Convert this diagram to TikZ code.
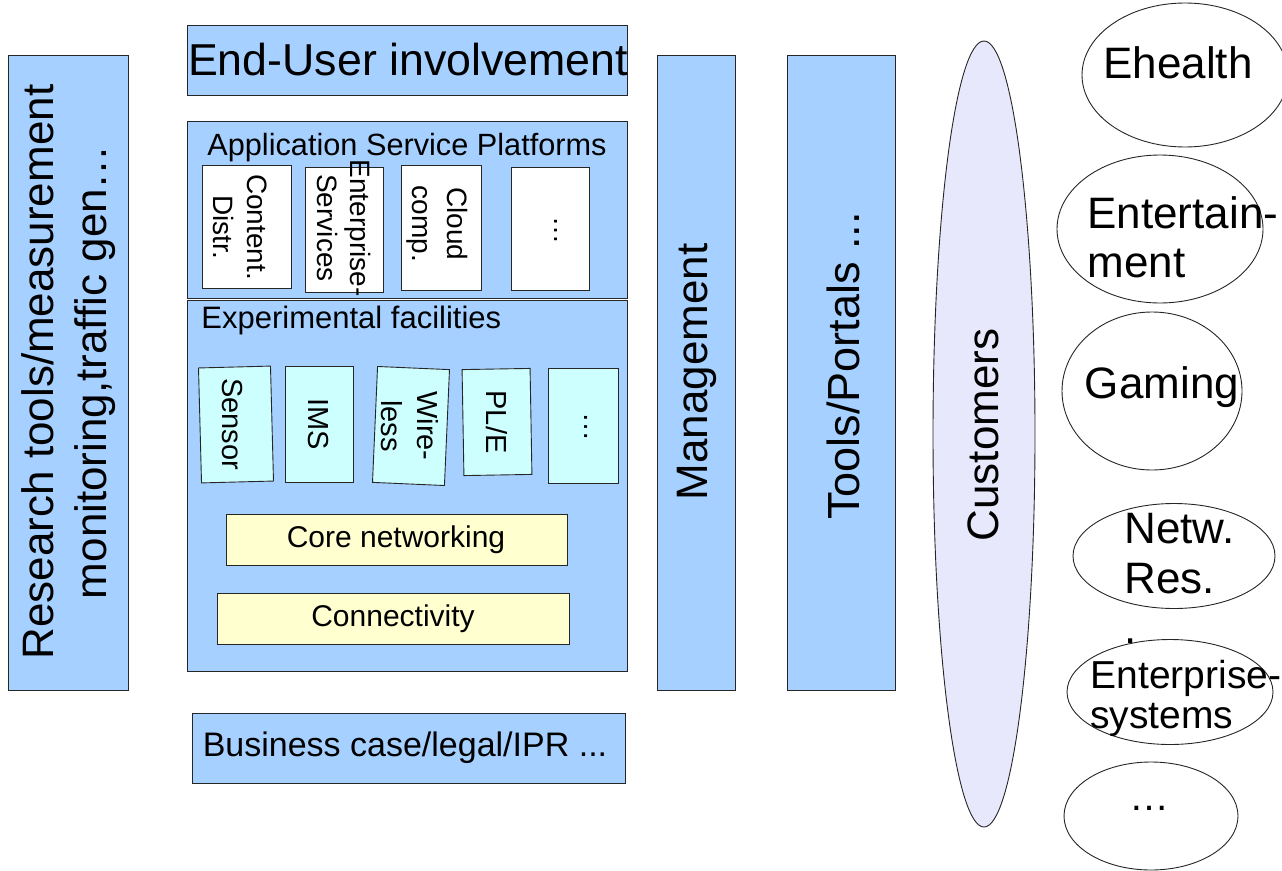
\documentclass[tikz,border=0pt]{standalone}
\usepackage{fontspec}
\setmainfont{Liberation Sans}
\usetikzlibrary{shapes.geometric}
\definecolor{bluefill}{RGB}{166,208,255}
\definecolor{cyanfill}{RGB}{206,255,255}
\definecolor{yellowfill}{RGB}{255,255,208}
\definecolor{lavfill}{RGB}{232,232,252}
\newcommand{\myfs}[2]{\fontsize{#1}{#2}\selectfont}
\begin{document}
\begin{tikzpicture}[x=1pt,y=-1pt,
  line width=0.9pt,
  bluebox/.style={draw=black!85, fill=bluefill, inner sep=0pt},
  whitebox/.style={draw=black!85, fill=white, inner sep=0pt},
  cyanbox/.style={draw=black!85, fill=cyanfill, inner sep=0pt},
  yellowbox/.style={draw=black!85, fill=yellowfill, inner sep=0pt},
  oval/.style={draw=black!85, ellipse, inner sep=0pt},
  txt/.style={inner sep=0pt, text=black},
]
\useasboundingbox (0,0) rectangle (1282,870);

% left column
\node[bluebox, minimum width=120, minimum height=635] (research) at (68,372.5) {};
\node[txt, rotate=90, align=center, font=\myfs{44}{53}] (researcht) at (69,372) {Research tools/measurement\\monitoring,traffic gen…};

% end user
\node[bluebox, minimum width=440, minimum height=70] (enduser) at (407,60) {};
\node[txt, font=\myfs{44.7}{53}] (endusert) at (408,60) {End-User involvement};

% application service platforms
\node[bluebox, minimum width=440, minimum height=177] (asp) at (407,209.5) {};
\node[txt, font=\myfs{30.7}{36}] (aspt) at (407,148) {Application Service Platforms};

\node[whitebox, minimum width=89, minimum height=123] (content) at (246.5,226.5) {};
\node[txt, rotate=-90, align=center, font=\myfs{28}{34}] (contentt) at (240.5,227) {Content.\\Distr.};
\node[whitebox, minimum width=78, minimum height=125] (ent) at (344,229.5) {};
\node[txt, rotate=-90, align=center, font=\myfs{28}{33}] (entt) at (344,228) {Enterprise-\\Services};
\node[whitebox, minimum width=80, minimum height=125] (cloud) at (441,227.5) {};
\node[txt, rotate=-90, align=center, font=\myfs{28}{35}] (cloudt) at (437.5,224) {Cloud\\comp.};
\node[whitebox, minimum width=78, minimum height=123] (aspdots) at (550,228.5) {};
\node[txt, rotate=-90, font=\myfs{28}{34}] (aspdotst) at (556,230) {…};

% experimental facilities
\node[bluebox, minimum width=440, minimum height=371] (exp) at (407,485.5) {};
\node[txt, anchor=west, font=\myfs{31}{36}] (expt) at (201,320) {Experimental facilities};

\node[cyanbox, minimum width=72, minimum height=115, rotate=1.5] (sensor) at (236,424.5) {};
\node[txt, rotate=-90, font=\myfs{29}{34}] (sensort) at (232,424) {Sensor};
\node[cyanbox, minimum width=68, minimum height=116] (ims) at (319,424) {};
\node[txt, rotate=-90, font=\myfs{29}{34}] (imst) at (318,424) {IMS};
\node[cyanbox, minimum width=72, minimum height=116, rotate=-2.5] (wire) at (411,426) {};
\node[txt, rotate=-90, align=center, font=\myfs{29}{36}] (wiret) at (410,426) {Wire-\\less};
\node[cyanbox, minimum width=68, minimum height=106, rotate=1] (ple) at (497,422) {};
\node[txt, rotate=-90, font=\myfs{29}{34}] (plet) at (497,422) {PL/E};
\node[cyanbox, minimum width=70, minimum height=115] (expdots) at (583,425.5) {};
\node[txt, rotate=-90, font=\myfs{29}{34}] (expdotst) at (586,427) {…};

\node[yellowbox, minimum width=341, minimum height=51] (core) at (396.5,539.5) {};
\node[txt, font=\myfs{30}{36}] (coret) at (396,540) {Core networking};
\node[yellowbox, minimum width=352, minimum height=51] (conn) at (393,618.5) {};
\node[txt, font=\myfs{30}{36}] (connt) at (393,619) {Connectivity};

% business
\node[bluebox, minimum width=433, minimum height=70] (busi) at (408.5,748) {};
\node[txt, font=\myfs{34}{40}] (busit) at (405,748) {Business case/legal/IPR ...};

% management and tools
\node[bluebox, minimum width=78, minimum height=635] (mgmt) at (696,372.5) {};
\node[txt, rotate=90, font=\myfs{44}{53}] (mgmtt) at (697,372) {Management};
\node[bluebox, minimum width=108, minimum height=635] (tools) at (841,372.5) {};
\node[txt, rotate=90, font=\myfs{45}{53}] (toolst) at (843,366) {Tools/Portals ...};

% customers
\node[oval, fill=lavfill, minimum width=102, minimum height=786] (cust) at (984,434) {};
\node[txt, rotate=90, font=\myfs{44}{53}] (custt) at (983,435) {Customers};

% right ellipses
\node[oval, fill=white, minimum width=206, minimum height=144] (eh) at (1185,75) {};
\node[txt, font=\myfs{44}{53}] (eht) at (1178,63) {Ehealth};
\node[oval, fill=white, minimum width=206, minimum height=148] (enter) at (1160,229) {};
\node[txt, anchor=west, align=left, font=\myfs{44}{49}] (entert) at (1087,237) {Entertain-\\ment};
\node[oval, fill=white, minimum width=180, minimum height=158] (game) at (1152,391) {};
\node[txt, font=\myfs{44}{53}] (gamet) at (1162,387) {Gaming};
\node[oval, fill=white, minimum width=202, minimum height=105] (netw) at (1174,556) {};
\node[oval, fill=white, minimum width=206, minimum height=105] (entsys) at (1170,692) {};
\node[txt, anchor=west, align=left, font=\myfs{44}{50}] (netwt) at (1124,578) {Netw.\\Res.\\.};
\node[txt, anchor=west, align=left, font=\myfs{39}{40}] (entsyst) at (1090,698) {Enterprise-\\systems};
\node[oval, fill=white, minimum width=174, minimum height=108] (more) at (1151,816) {};
\node[txt, font=\myfs{40}{48}] (moret) at (1149,808) {…};
\end{tikzpicture}
\end{document}
